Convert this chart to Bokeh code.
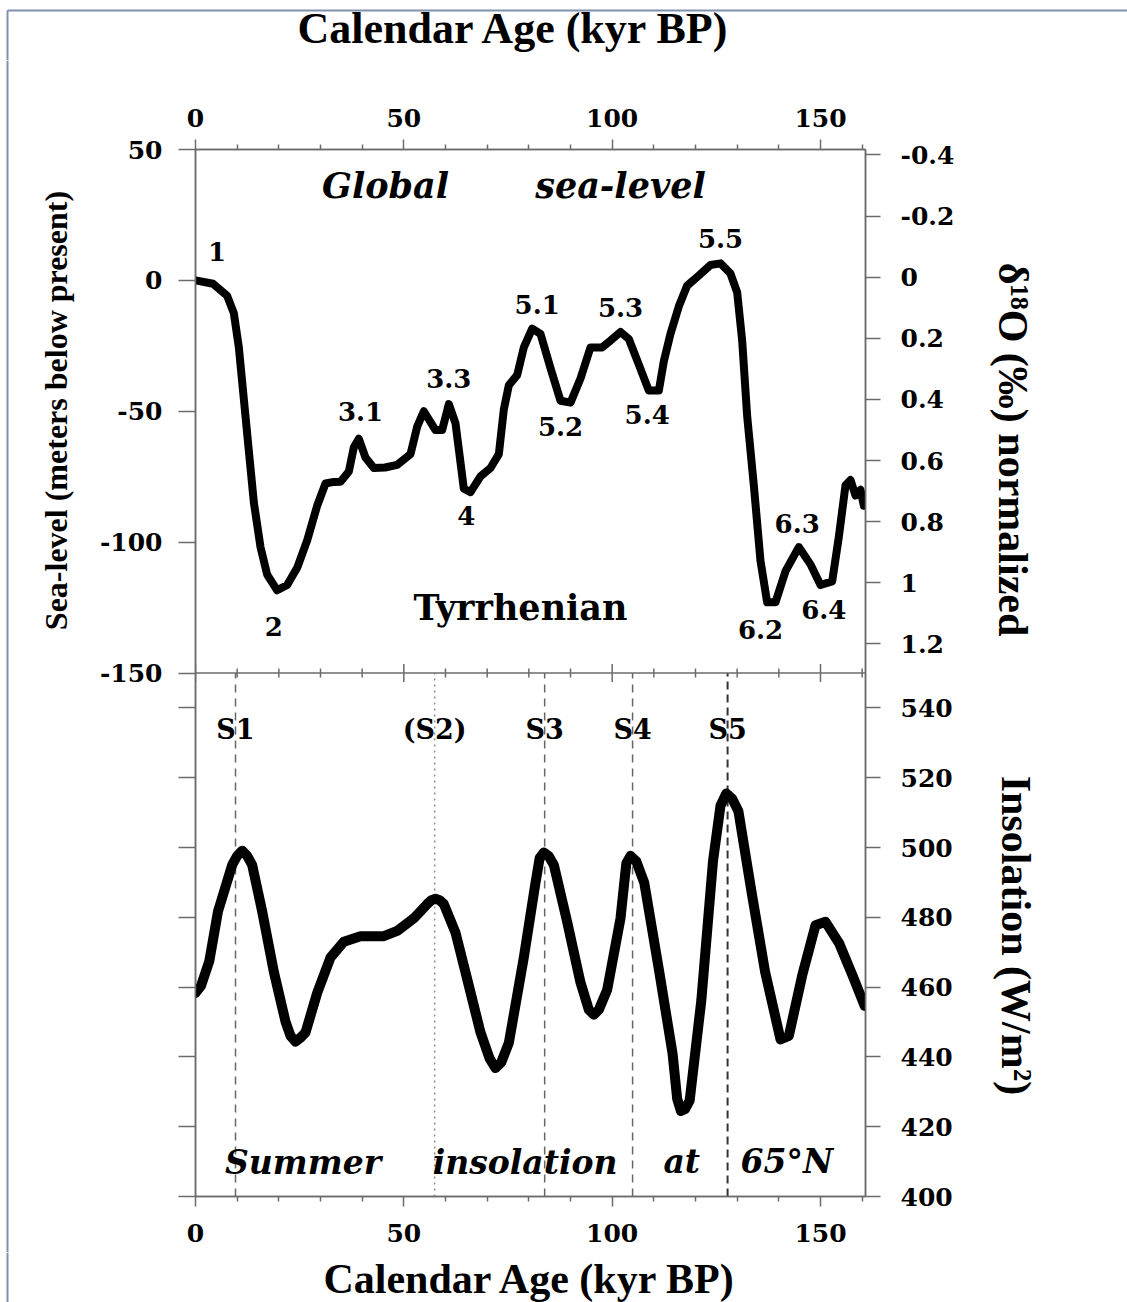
import math
from bokeh.plotting import figure
from bokeh.layouts import row, column
from bokeh.models import (Range1d, LinearAxis, FixedTicker, CustomJSTickFormatter, Span)
from bokeh.core.properties import value
from bokeh.embed import file_html
from bokeh.resources import INLINE

# ---------------- data ----------------
X_MAJOR = [0, 50, 100, 150]
X_MINOR = [10, 20, 30, 40, 60, 70, 80, 90, 110, 120, 130, 140, 160]
SL_TICKS = [-150, -100, -50, 0, 50]
D18O_TICKS = [-0.4, -0.2, 0, 0.2, 0.4, 0.6, 0.8, 1, 1.2]
INS_TICKS = [400, 420, 440, 460, 480, 500, 520, 540]

sl_age = [0, 4.2, 7.6, 9.2, 10.4, 11.6, 12.8, 14.0, 15.6, 17.2, 19.6, 22.0, 24.4,
          26.8, 29.2, 31.2, 33.2, 34.8, 36.8, 38.0, 39.2, 40.8, 42.8, 45.5, 48.4,
          51.6, 53.2, 54.8, 57.6, 59.2, 60.8, 62.4, 64.4, 66.0, 68.4, 70.8, 72.8,
          74.0, 75.2, 77.2, 78.8, 80.8, 82.8, 85.2, 87.6, 90.0, 92.4, 94.8, 97.6,
          99.6, 102.0, 104.0, 106.4, 108.8, 111.2, 112.4, 114.0, 116.0, 118.0,
          120.4, 123.6, 126.0, 128.4, 130.0, 131.2, 132.4, 134.0, 135.6, 137.2,
          139.2, 141.6, 144.8, 147.6, 150.0, 152.8, 154.4, 156.0, 157.2, 158.4,
          159.6, 160.4]
sl_val = [0, -1.3, -5.9, -12.5, -25.6, -45.4, -65.1, -84.8, -101.9, -112.4, -118.4,
          -116.4, -109.8, -99.3, -86.1, -77.6, -77.0, -76.9, -73.0, -63.8, -60.5,
          -67.7, -71.7, -71.5, -70.5, -66.4, -55.9, -50.0, -57.2, -57.2, -47.3,
          -54.6, -79.6, -80.9, -74.9, -71.7, -66.4, -49.3, -40.1, -36.2, -25.6,
          -18.4, -20.4, -33.5, -46.0, -46.7, -37.5, -25.6, -25.6, -23.0, -19.7,
          -22.4, -32.2, -42.1, -42.1, -30.9, -20.4, -9.9, -2.0, 1.3, 5.9, 6.5,
          2.6, -4.6, -23.0, -51.9, -78.3, -107.2, -123.0, -123.0, -111.1, -101.9,
          -108.5, -116.4, -115.0, -98.0, -78.3, -76.3, -82.2, -80.0, -86.1]

ins_age = [0, 1.3, 3.3, 5.4, 8.8, 10.0, 11.2, 12.4, 13.6, 16.0, 18.8, 21.6, 22.8,
           24.0, 25.2, 26.4, 29.2, 32.4, 35.6, 39.6, 45.2, 48.4, 52.4, 55.6, 56.6,
           57.6, 58.6, 59.6, 62.4, 65.2, 68.4, 70.6, 72.0, 73.4, 75.2, 78.8, 81.6,
           82.6, 83.6, 84.8, 86.0, 89.2, 92.4, 94.4, 95.6, 96.8, 98.8, 102.0, 103.4,
           104.4, 105.8, 107.7, 111.3, 114.5, 115.6, 116.5, 117.5, 118.6, 121.4,
           124.2, 126.0, 127.4, 128.8, 130.3, 133.5, 136.7, 140.4, 142.4, 145.6,
           148.8, 151.2, 154.5, 157.7, 160.6]
ins_val = [458.3, 460.3, 467.4, 481.7, 495.0, 497.6, 499.1, 497.6, 495.0, 481.7,
           464.4, 450.1, 446.0, 444.4, 445.5, 447.0, 458.3, 468.5, 473.0, 474.6,
           474.6, 476.1, 479.7, 483.8, 484.9, 485.3, 484.9, 483.8, 475.6, 462.3,
           447.0, 439.5, 436.8, 438.5, 444.0, 468.5, 489.9, 497.0, 498.6, 497.5,
           495.0, 478.7, 461.3, 453.5, 452.1, 453.5, 459.2, 479.7, 495.5, 497.6,
           496.0, 489.9, 464.4, 440.9, 428.0, 424.5, 425.0, 427.5, 456.2, 496.1,
           512.0, 515.5, 514.0, 510.4, 486.9, 464.4, 445.0, 446.0, 463.3, 477.7,
           478.7, 472.5, 463.3, 454.6]

stage_labels = ["1", "2", "3.1", "3.3", "4", "5.1", "5.2", "5.3", "5.4", "5.5",
                "6.2", "6.3", "6.4"]
stage_x = [5.2, 18.8, 39.6, 60.8, 65.0, 82.0, 87.6, 102.0, 108.4, 126.0, 135.6,
           144.4, 150.8]
stage_y = [11.2, -132.2, -50.0, -37.5, -90.0, -9.2, -55.9, -10.5, -51.3, 15.9,
           -133.5, -92.7, -125.6]

top_words = ["Global", "sea-level"]
top_words_x = [45.6, 102.0]
top_words_y = [36.1, 36.2]

s_labels = ["S1", "(S2)", "S3", "S4", "S5"]
s_age = [9.6, 57.4, 83.8, 104.9, 127.7]
s_label_y = [533.8] * 5

bottom_words = ["Summer", "insolation", "at", "65°N"]
bottom_words_x = [25.8, 79.1, 116.7, 141.9]
bottom_words_y = [409.7, 409.7, 410.0, 410.0]

X_TITLE = "Calendar Age (kyr BP)"
SL_TITLE = "Sea-level (meters below present)"
D18O_TITLE = "δ¹⁸O (‰) normalized"
INS_TITLE = "Insolation (W/m²)"

# ---------------- panel geometry (value ranges) ----------------
X_END = 160.8
SL_PANEL = (-150, 50)
INS_PANEL = (400, 550)
D18O_PANEL = (1.2955, -0.418)   # value at panel bottom, at panel top

sl_span = SL_PANEL[1] - SL_PANEL[0]
ins_span = INS_PANEL[1] - INS_PANEL[0]


def sl_of_ins(v):
    return SL_PANEL[0] - (INS_PANEL[1] - v) * sl_span / ins_span


def ins_of_d18o(d):
    return INS_PANEL[1] + (D18O_PANEL[0] - d) / (D18O_PANEL[0] - D18O_PANEL[1]) * ins_span


AX = "#6b6b6b"
EDGE = "#8290ad"
TICK_FONT = "DejaVu Serif"
TITLE_FONT = "Liberation Serif"

W = 1127
TOP_H, BOT_H = 60, 50
MID_H = 1302 - TOP_H - BOT_H
LEFT_W, RIGHT_W = 90, 162
MAIN_W = W - LEFT_W - RIGHT_W

y_sl = Range1d(SL_PANEL[0] - sl_span, SL_PANEL[1])
y_ins = Range1d(INS_PANEL[0], INS_PANEL[1] + ins_span)

p = figure(width=MAIN_W, height=MID_H,
           x_range=Range1d(0, X_END), y_range=y_sl,
           x_axis_type=None, y_axis_type=None,
           toolbar_location=None, output_backend="svg",
           min_border_left=105, min_border_right=MAIN_W - 105 - 670,
           min_border_top=149 - TOP_H, min_border_bottom=MID_H - (149 - TOP_H) - 1047,
           background_fill_color="white", border_fill_color="white")
p.extra_y_ranges = {"ins": y_ins}
p.outline_line_color = AX
p.outline_line_width = 1.5


def style_axis(ax):
    ax.axis_line_color = AX
    ax.axis_line_width = 1.5
    ax.major_tick_line_color = AX
    ax.major_tick_line_width = 1.5
    ax.minor_tick_line_color = AX
    ax.minor_tick_line_width = 1.5
    ax.major_label_text_font = TICK_FONT
    ax.major_label_text_font_style = "bold"
    ax.major_label_text_font_size = "25px"
    ax.major_label_text_color = "black"


# top / bottom x axes
for loc, standoff in (("above", 13), ("below", 17)):
    ax = LinearAxis(ticker=FixedTicker(ticks=X_MAJOR, minor_ticks=X_MINOR))
    style_axis(ax)
    ax.major_tick_out = 10
    ax.major_tick_in = 0
    ax.minor_tick_out = 5
    ax.minor_tick_in = 0
    ax.major_label_standoff = standoff
    p.add_layout(ax, loc)

# left axis: labelled sea-level ticks (top panel) + unlabelled insolation ticks (bottom panel)
left_ticks = SL_TICKS + [sl_of_ins(v) for v in INS_TICKS]
lax = LinearAxis(ticker=FixedTicker(ticks=left_ticks),
                 formatter=CustomJSTickFormatter(args=dict(lo=SL_PANEL[0]),
                                                 code="return tick < lo - 1e-6 ? '' : tick.toFixed(0);"))
style_axis(lax)
lax.major_tick_out = 17
lax.major_tick_in = 0
lax.minor_tick_out = 0
lax.minor_tick_in = 0
lax.major_label_standoff = 16
p.add_layout(lax, "left")

# right axis: d18O ticks (top panel) + insolation ticks (bottom panel)
d_pos = [ins_of_d18o(d) for d in D18O_TICKS]
d_lab = [f"{d:g}" for d in D18O_TICKS]
rax = LinearAxis(y_range_name="ins", ticker=FixedTicker(ticks=INS_TICKS + d_pos),
                 formatter=CustomJSTickFormatter(
                     args=dict(pos=d_pos, lab=d_lab, top=INS_PANEL[1]),
                     code="""
if (tick <= top + 1e-6) { return tick.toFixed(0); }
let best = 0, bd = 1e9;
for (let i = 0; i < pos.length; i++) {
  const d = Math.abs(pos[i] - tick);
  if (d < bd) { bd = d; best = i; }
}
return lab[best];
"""))
style_axis(rax)
rax.major_tick_out = 15
rax.major_tick_in = 0
rax.minor_tick_out = 0
rax.minor_tick_in = 0
rax.major_label_standoff = 20
p.add_layout(rax, "right")

# boundary between the two panels, with its ticks
p.add_layout(Span(location=SL_PANEL[0], dimension="width", line_color=AX, line_width=1.5))
p.scatter(x=X_MAJOR, y=[SL_PANEL[0]] * len(X_MAJOR), marker="dash", angle=math.pi / 2,
          size=18, line_color=AX, line_width=1.5)
p.scatter(x=X_MINOR, y=[SL_PANEL[0]] * len(X_MINOR), marker="dash", angle=math.pi / 2,
          size=9, line_color=AX, line_width=1.5)

# S dashed lines
s_dash = ["8 6", "2 4", "8 6", "8 6", "8 5"]
s_color = ["#666666", "#8a8a8a", "#666666", "#666666", "#333333"]
s_width = [1.5, 1.5, 1.5, 1.5, 2.0]
for i in range(len(s_age)):
    p.segment(x0=[s_age[i]], y0=[INS_PANEL[0]], x1=[s_age[i]], y1=[INS_PANEL[1]],
              y_range_name="ins", line_color=s_color[i], line_width=s_width[i],
              line_dash=s_dash[i])

# curves
p.line(sl_age, sl_val, line_color="black", line_width=8, line_join="round", line_cap="round")
p.line(ins_age, ins_val, y_range_name="ins", line_color="black", line_width=10,
       line_join="round", line_cap="round")

# in-panel texts
p.text(x=stage_x, y=stage_y, text=stage_labels, text_font=value(TICK_FONT),
       text_font_style="bold", text_font_size="26px", text_align="center",
       text_baseline="middle", text_color="black")
p.text(x=top_words_x, y=top_words_y, text=top_words, text_font=value(TICK_FONT),
       text_font_style="bold italic", text_font_size="35px", text_align="center",
       text_baseline="middle", text_color="black")
p.text(x=[78.0], y=[-124.9], text=["Tyrrhenian"], text_font=value(TICK_FONT),
       text_font_style="bold", text_font_size="35px", text_align="center",
       text_baseline="middle", text_color="black")
p.text(x=s_age, y=s_label_y, text=s_labels, y_range_name="ins", text_font=value(TICK_FONT),
       text_font_style="bold", text_font_size="27px", text_align="center",
       text_baseline="middle", text_color="black")
p.text(x=bottom_words_x, y=bottom_words_y, text=bottom_words, y_range_name="ins",
       text_font=value(TICK_FONT), text_font_style="bold italic", text_font_size="33px",
       text_align="center", text_baseline="middle", text_color="black")


# strips around the plot that carry the axis titles (pixel coordinates, y upward)
def strip(w, h):
    f = figure(width=w, height=h, x_range=Range1d(0, w), y_range=Range1d(0, h),
               x_axis_type=None, y_axis_type=None, toolbar_location=None,
               output_backend="svg", min_border=0,
               background_fill_color="white", border_fill_color="white")
    f.outline_line_color = None
    f.frame_align = False
    return f


def title(f, text, x, y, angle, size, baseline="middle"):
    f.text(x=[x], y=[y], text=[text], angle=angle, text_font=value(TITLE_FONT),
           text_font_style="bold", text_font_size=size, text_align="center",
           text_baseline=baseline, text_color="black")


pt = strip(W, TOP_H)
title(pt, X_TITLE, 514, TOP_H - 28, 0, "44px")
pt.segment(x0=[7, 7], y0=[TOP_H - 10, 0], x1=[W, 7], y1=[TOP_H - 10, TOP_H - 10],
           line_color=EDGE, line_width=2)

pb = strip(W, BOT_H)
title(pb, X_TITLE, 530, 1, 0, "42px", "bottom")
pb.add_layout(Span(location=7, dimension="height", line_color=EDGE, line_width=2))

pl = strip(LEFT_W, MID_H)
title(pl, SL_TITLE, 55, MID_H + TOP_H - 410, math.pi / 2, "32px")
pl.add_layout(Span(location=7, dimension="height", line_color=EDGE, line_width=2))

pr = strip(RIGHT_W, MID_H)
title(pr, D18O_TITLE, 1012 - (W - RIGHT_W), MID_H + TOP_H - 449, -math.pi / 2, "42px")
title(pr, INS_TITLE, 1015 - (W - RIGHT_W), MID_H + TOP_H - 935, -math.pi / 2, "42px")

layout = column(pt, row(pl, p, pr), pb)
open("out.html", "w").write(file_html(layout, INLINE))
